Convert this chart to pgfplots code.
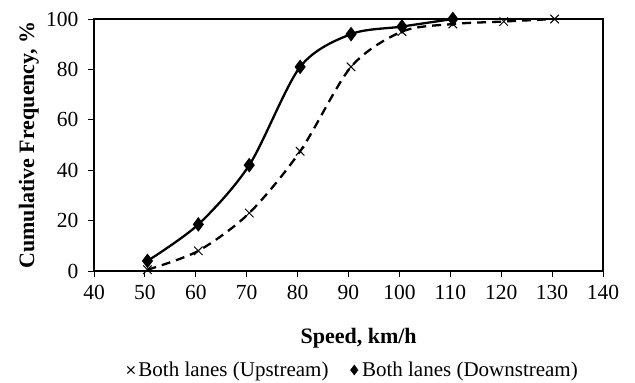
\documentclass[border=0pt]{standalone}
\usepackage{pgfplots}
\pgfplotsset{compat=1.18}
\usepackage{fontspec}
\setmainfont{Liberation Serif}
\begin{document}
\begin{tikzpicture}
\begin{axis}[
  scale only axis,
  width=509bp, height=252bp,
  xmin=40, xmax=140, ymin=0, ymax=100,
  clip=false,
  xtick={40,50,...,140}, ytick={0,20,...,100},
  /pgf/number format/assume math mode=true,
  tick label style={font=\fontsize{21.5bp}{24bp}\selectfont},
  yticklabel style={xshift=-6bp},
  xticklabel style={yshift=-5bp},
  tick align=outside, tick pos=left,
  major tick length=6bp,
  axis line style={line width=1.3pt},
  every tick/.style={black, line width=0.9pt},
  xlabel={\textbf{Speed, km/h}},
  ylabel={\textbf{Cumulative Frequency, \%}},
  label style={font=\fontsize{22bp}{25bp}\selectfont},
  xlabel style={at={(axis description cs:0.52,-0.266)}, anchor=center},
  ylabel style={at={(axis description cs:-0.128,0.5)}, anchor=center},
  legend style={draw=none, at={(0.51,-0.393)}, anchor=center, legend columns=2,
    font=\fontsize{21bp}{24bp}\selectfont, /tikz/every even column/.append style={column sep=20bp},
    inner sep=0pt, outer sep=0pt},
  legend cell align=left,
]
\addplot[black, line width=2.3pt, dash pattern=on 9bp off 6bp, smooth, tension=0.5, mark=x, mark size=6bp, mark options={solid, line width=1pt}, forget plot] coordinates {
(50.5,0.5) (60.5,8) (70.5,23) (80.5,47.5) (90.5,81) (100.5,95) (110.5,98) (120.5,99) (130.5,100)};
\addplot[black, line width=2.3pt, smooth, tension=0.5, mark=diamond*, mark size=5.5bp, mark options={solid}, forget plot] coordinates {
(50.5,4) (60.5,18.5) (70.5,42) (80.5,81) (90.5,94) (100.5,97) (110.5,100)};
\addlegendimage{only marks, mark=x, mark size=5bp, black, mark options={line width=1pt}}
\addlegendentry{\hspace{2bp}Both lanes (Upstream)}
\addlegendimage{only marks, mark=diamond*, mark size=5bp, black}
\addlegendentry{\hspace{2bp}Both lanes (Downstream)}
\path (axis description cs:-0.1847,-0.4444) rectangle (axis description cs:1.0629,1.0754);
\end{axis}
\end{tikzpicture}
\end{document}
